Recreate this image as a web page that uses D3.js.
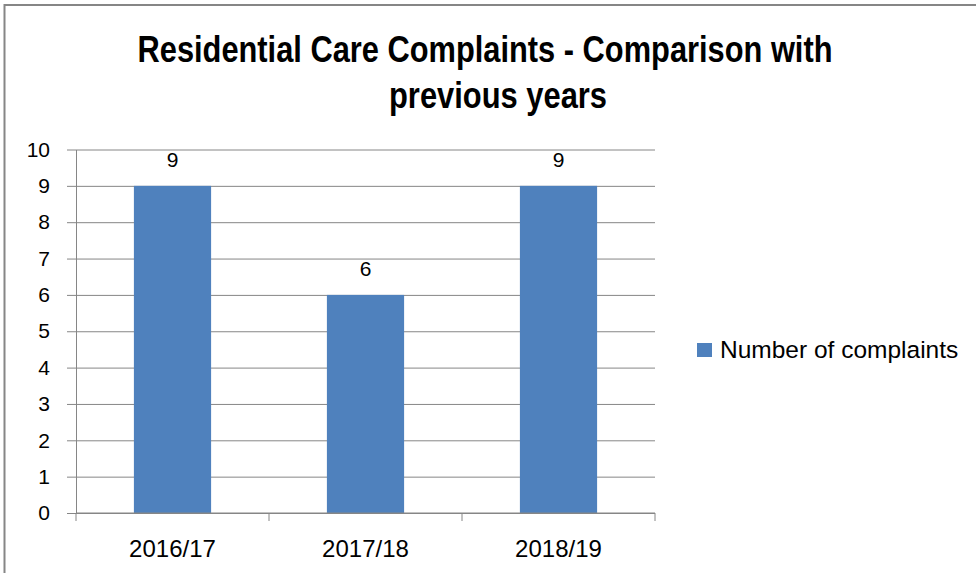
<!DOCTYPE html>
<html>
<head>
<meta charset="utf-8">
<script src="https://cdn.jsdelivr.net/npm/d3@7"></script>
<style>
  body { margin: 0; background: #fff; }
  svg text { font-family: "Liberation Sans", Arial, sans-serif; fill: #000; }
</style>
</head>
<body>
<div id="chart"></div>
<script>
// chart data
let categories = ["2016/17", "2017/18", "2018/19"];
let complaints = [9, 6, 9];
let yTicks = [0, 1, 2, 3, 4, 5, 6, 7, 8, 9, 10];
let seriesName = "Number of complaints";
let titleLines = ["Residential Care Complaints - Comparison with", "previous years"];

let W = 976, H = 573;
let margin = { top: 149.5, left: 76, right: 321, bottom: 60 };
let plotW = W - margin.left - margin.right,
    plotH = 513 - margin.top;

let svg = d3.select("#chart").append("svg")
    .attr("width", W)
    .attr("height", H);

// outer border (right/bottom run off the picture)
svg.append("rect")
    .attr("x", 4.5).attr("y", 5)
    .attr("width", W + 10).attr("height", H + 10)
    .attr("fill", "none")
    .attr("stroke", "#868686")
    .attr("stroke-width", 2);

// title
let title = svg.append("g");
title.append("text")
    .attr("x", 485).attr("y", 62)
    .attr("text-anchor", "middle")
    .attr("textLength", 695).attr("lengthAdjust", "spacingAndGlyphs")
    .style("font-family", "'Liberation Sans Narrow', 'Liberation Sans', sans-serif")
    .style("font-weight", "bold").style("font-size", "36px")
    .text(titleLines[0]);
title.append("text")
    .attr("x", 498).attr("y", 108)
    .attr("text-anchor", "middle")
    .attr("textLength", 218).attr("lengthAdjust", "spacingAndGlyphs")
    .style("font-family", "'Liberation Sans Narrow', 'Liberation Sans', sans-serif")
    .style("font-weight", "bold").style("font-size", "36px")
    .text(titleLines[1]);

let g = svg.append("g")
    .attr("transform", "translate(" + margin.left + "," + margin.top + ")");

let x = d3.scaleBand()
    .domain(categories)
    .range([0, plotW])
    .paddingInner(0.6)
    .paddingOuter(0.3);

let y = d3.scaleLinear()
    .domain([0, 10])
    .range([plotH, 0]);

// gridlines + y axis
let yAxis = g.append("g")
    .call(d3.axisLeft(y).tickValues(yTicks).tickSize(-plotW).tickPadding(26).tickSizeOuter(0));
yAxis.select(".domain").attr("stroke", "#868686");
yAxis.selectAll(".tick line")
    .attr("x1", -9)
    .attr("x2", plotW)
    .attr("stroke", "#868686");
yAxis.selectAll(".tick text")
    .style("font-size", "21px")
    .attr("fill", "#000");

// bars
g.selectAll(".bar")
    .data(complaints)
    .enter().append("rect")
    .attr("class", "bar")
    .attr("x", function (d, i) { return x(categories[i]); })
    .attr("y", function (d) { return y(d); })
    .attr("width", x.bandwidth())
    .attr("height", function (d) { return plotH - y(d); })
    .attr("fill", "#4F81BD");

// data labels
g.selectAll(".lbl")
    .data(complaints)
    .enter().append("text")
    .attr("class", "lbl")
    .attr("x", function (d, i) { return x(categories[i]) + x.bandwidth() / 2; })
    .attr("y", function (d) { return y(d) - 19; })
    .attr("text-anchor", "middle")
    .style("font-size", "21px")
    .text(function (d) { return d; });

// x axis with ticks between categories
let xAxis = g.append("g")
    .attr("transform", "translate(0," + plotH + ")");
xAxis.append("line")
    .attr("x1", 0).attr("x2", plotW)
    .attr("stroke", "#868686");
let bounds = d3.range(categories.length + 1).map(function (i) { return i * x.step(); });
xAxis.selectAll(".xt")
    .data(bounds)
    .enter().append("line")
    .attr("x1", function (d) { return d; })
    .attr("x2", function (d) { return d; })
    .attr("y1", 0).attr("y2", 8)
    .attr("stroke", "#868686");
xAxis.selectAll(".xl")
    .data(categories)
    .enter().append("text")
    .attr("x", function (d) { return x(d) + x.bandwidth() / 2; })
    .attr("y", 44)
    .attr("text-anchor", "middle")
    .style("font-size", "24px")
    .text(function (d) { return d; });

// legend
let legend = svg.append("g").attr("transform", "translate(697,343)");
legend.append("rect")
    .attr("width", 15).attr("height", 14)
    .attr("fill", "#4F81BD");
legend.append("text")
    .attr("x", 23).attr("y", 15)
    .style("font-size", "24.5px")
    .text(seriesName);
</script>
</body>
</html>
